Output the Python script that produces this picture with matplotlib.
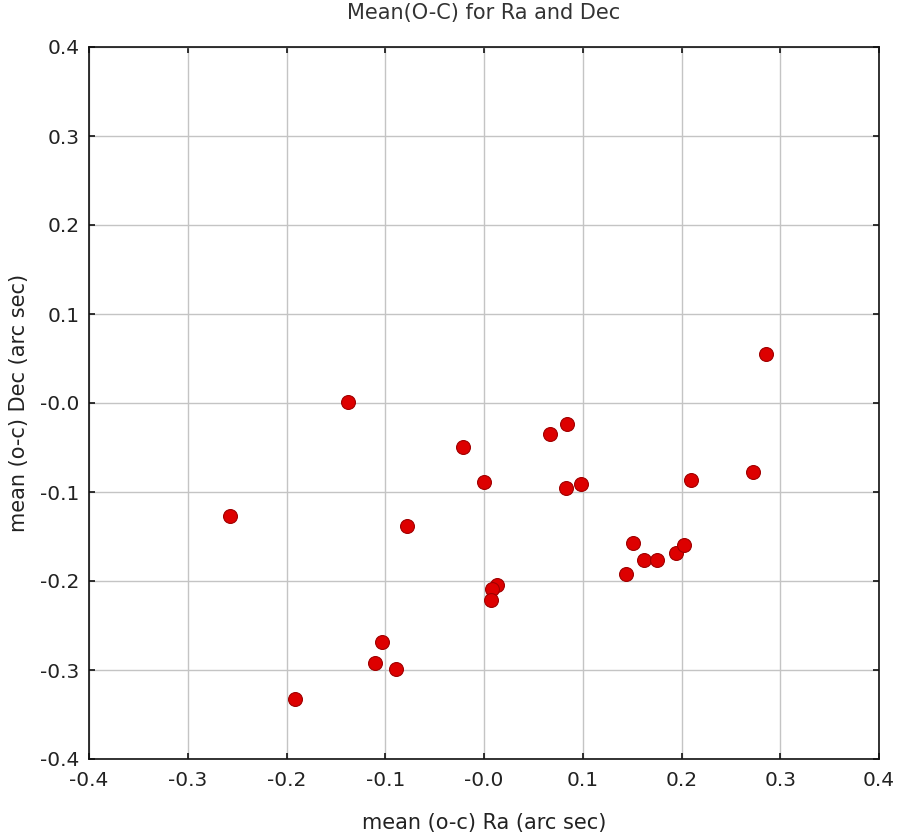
import matplotlib
matplotlib.use("Agg")
import matplotlib.pyplot as plt

# Data
ra = [0.286, -0.138, -0.021, 0.000, -0.257, -0.078,
      0.013, 0.008, 0.007, -0.103, -0.110, -0.089, -0.191,
      0.084, 0.067, 0.083, 0.098, 0.210, 0.272,
      0.151, 0.162, 0.175, 0.144, 0.194, 0.203]
dec = [0.055, 0.001, -0.049, -0.089, -0.127, -0.138,
       -0.205, -0.209, -0.221, -0.269, -0.292, -0.299, -0.333,
       -0.024, -0.035, -0.096, -0.091, -0.087, -0.078,
       -0.157, -0.176, -0.176, -0.192, -0.169, -0.160]

tick_vals = [-0.4, -0.3, -0.2, -0.1, 0.0, 0.1, 0.2, 0.3, 0.4]
tick_labels = ["-0.4", "-0.3", "-0.2", "-0.1", "-0.0", "0.1", "0.2", "0.3", "0.4"]

title = "Mean(O-C) for Ra and Dec"
xlabel = "mean (o-c) Ra (arc sec)"
ylabel = "mean (o-c) Dec (arc sec)"

plt.rcParams['font.family'] = ['DejaVu Sans']

fig = plt.figure(figsize=(8.99, 8.39), dpi=100)
ax = fig.add_axes([89/899, 1 - 759/839, 790/899, 712/839])

ax.scatter(ra, dec, s=100, facecolor='#dd0000', edgecolor='#a00000',
           linewidth=0.8, zorder=3)

ax.set_xlim(-0.4, 0.4)
ax.set_ylim(-0.4, 0.4)
ax.set_xticks(tick_vals)
ax.set_xticklabels(tick_labels)
ax.set_yticks(tick_vals)
ax.set_yticklabels(tick_labels)

ax.grid(True, color='#c4c4c4', linewidth=1.0, zorder=0)
ax.set_axisbelow(True)

for sp in ax.spines.values():
    sp.set_linewidth(1.2)
    sp.set_color('#111111')

ax.tick_params(axis='both', direction='in', length=4, width=1.2,
               top=True, right=True, labelsize=14.5, colors='#111111',
               labelcolor='#222222')
ax.tick_params(axis='x', pad=9)
ax.tick_params(axis='y', pad=7)

ax.set_title(title, fontsize=15, color='#333333', pad=20)
ax.set_xlabel(xlabel, fontsize=15, color='#222222', labelpad=16)
ax.set_ylabel(ylabel, fontsize=15, color='#222222', labelpad=8)

fig.savefig("out.png", dpi=100, facecolor='white')
